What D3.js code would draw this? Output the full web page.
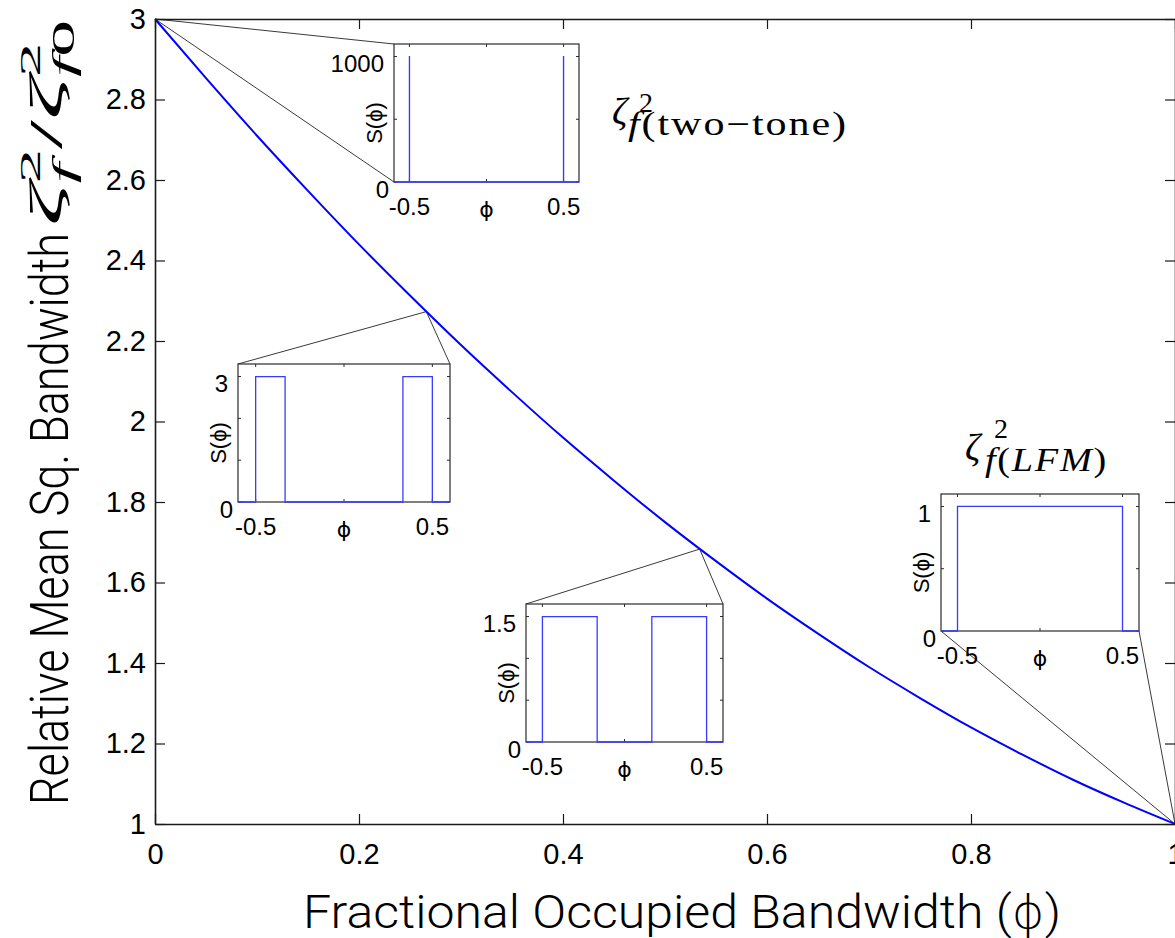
<!DOCTYPE html>
<html>
<head>
<meta charset="utf-8">
<script src="https://cdn.jsdelivr.net/npm/d3@7"></script>
<style>
  body { margin: 0; background: #fff; }
  svg { display: block; }
</style>
</head>
<body>
<script>
// main curve
var phi = [0, 0.05, 0.1, 0.15, 0.2, 0.25, 0.3, 0.35, 0.4, 0.45, 0.5,
           0.55, 0.6, 0.65, 0.7, 0.75, 0.8, 0.85, 0.9, 0.95, 1];
var relBw = [3, 2.853, 2.71, 2.573, 2.44, 2.313, 2.19, 2.073, 1.96, 1.853, 1.75,
             1.653, 1.56, 1.473, 1.39, 1.313, 1.24, 1.173, 1.11, 1.053, 1];
var xTicks = [0, 0.2, 0.4, 0.6, 0.8, 1];
var xTickLabels = ["0", "0.2", "0.4", "0.6", "0.8", "1"];
var yTicks = [1, 1.2, 1.4, 1.6, 1.8, 2, 2.2, 2.4, 2.6, 2.8, 3];
var yTickLabels = ["1", "1.2", "1.4", "1.6", "1.8", "2", "2.2", "2.4", "2.6", "2.8", "3"];

// small spectra S(phi): occupied bandwidth and peak height of each inset
var insetOccupied = [0.001, 0.333, 0.667, 1];
var insetPeak = [1000, 3, 1.5, 1];
var insetYTicks = [[0, 500, 1000], [0, 1, 2, 3], [0, 0.5, 1, 1.5], [0, 0.5, 1]];
var insetYTickLabels = [["0", "", "1000"], ["0", "", "", "3"], ["0", "", "", "1.5"], ["0", "", "1"]];
var insetXTicks = [-0.5, 0, 0.5];
var insetXTickLabels = ["-0.5", "", "0.5"];
// where each inset points to on the main curve
var anchorPhi = [0, 0.266, 0.534, 1];
var anchorVal = [3, 2.273, 1.683, 1];

var W = 1175, H = 938;
var mLeft = 155, mRight = 1175, mTop = 19, mBottom = 824;

// layout of the insets (pixels)
var insetBox = [
    { x: 394, y: 44, w: 185, h: 138, corners: ["tl", "bl"] },
    { x: 238, y: 364, w: 212, h: 138, corners: ["tl", "tr"] },
    { x: 526, y: 604, w: 197, h: 138, corners: ["tl", "tr"] },
    { x: 941, y: 494, w: 198, h: 137, corners: ["bl", "br"] }
];

var mathFont = "'Liberation Serif', 'Times New Roman', serif";
var tickFont = "'Liberation Sans', Arial, Helvetica, sans-serif";
var titleFont = "Roboto, 'Liberation Sans', sans-serif";

var svg = d3.select("body").append("svg")
    .attr("width", W)
    .attr("height", H);

var x = d3.scaleLinear().domain([0, 1]).range([mLeft, mRight]);
var y = d3.scaleLinear().domain([1, 3]).range([mBottom, mTop]);

// connectors from the curve to the insets
insetBox.forEach(function (b, i) {
    var ax = x(anchorPhi[i]), ay = y(anchorVal[i]);
    b.corners.forEach(function (c) {
        var cx = c[1] == "l" ? b.x : b.x + b.w;
        var cy = c[0] == "t" ? b.y : b.y + b.h;
        svg.append("line")
            .attr("x1", ax).attr("y1", ay)
            .attr("x2", cx).attr("y2", cy)
            .attr("stroke", "#3a3a3a")
            .attr("stroke-width", 1);
    });
});

var line = d3.line()
    .x(function (d, i) { return x(phi[i]); })
    .y(function (d) { return y(d); })
    .curve(d3.curveMonotoneX);

svg.append("path")
    .datum(relBw)
    .attr("fill", "none")
    .attr("stroke", "#0000ff")
    .attr("stroke-width", 2)
    .attr("d", line);

function styleAxis(g) {
    g.selectAll(".domain").attr("stroke", "#1a1a1a").attr("stroke-width", 1.6);
    g.selectAll(".tick line").attr("stroke", "#1a1a1a").attr("stroke-width", 1.2);
    g.selectAll(".tick text")
        .attr("fill", "#000")
        .style("font-family", tickFont)
        .style("font-size", "29px");
}

svg.append("g")
    .attr("transform", "translate(0," + mBottom + ")")
    .call(d3.axisBottom(x).tickValues(xTicks)
        .tickFormat(function (d, i) { return xTickLabels[i]; })
        .tickSizeInner(-10).tickSizeOuter(0).tickPadding(19))
    .call(styleAxis);

svg.append("g")
    .attr("transform", "translate(0," + mTop + ")")
    .call(d3.axisTop(x).tickValues(xTicks).tickFormat("")
        .tickSizeInner(-10).tickSizeOuter(0))
    .call(styleAxis);

svg.append("g")
    .attr("transform", "translate(" + mLeft + ",0)")
    .call(d3.axisLeft(y).tickValues(yTicks)
        .tickFormat(function (d, i) { return yTickLabels[i]; })
        .tickSizeInner(-10).tickSizeOuter(0).tickPadding(9))
    .call(styleAxis);

svg.append("g")
    .attr("transform", "translate(" + mRight + ",0)")
    .call(d3.axisRight(y).tickValues(yTicks).tickFormat("")
        .tickSizeInner(-10).tickSizeOuter(0))
    .call(styleAxis);

// axis titles
var xt = svg.append("text")
    .attr("x", 303)
    .attr("y", 928)
    .attr("textLength", 758)
    .attr("lengthAdjust", "spacingAndGlyphs")
    .style("font-family", titleFont)
    .style("font-weight", 300)
    .style("font-size", "46px");
xt.append("tspan").text("Fractional Occupied Bandwidth (");
xt.append("tspan").style("font-family", "'DejaVu Sans', sans-serif").style("font-weight", 200).text("\u03d5");
xt.append("tspan").text(")");

svg.append("text")
    .attr("transform", "translate(68,805) rotate(-90)")
    .attr("textLength", 572)
    .attr("lengthAdjust", "spacingAndGlyphs")
    .style("font-family", titleFont)
    .style("font-weight", 300)
    .style("font-size", "53px")
    .text("Relative Mean Sq. Bandwidth");

var ym = svg.append("text")
    .attr("transform", "translate(62,226) rotate(-90)")
    .attr("textLength", 206)
    .attr("lengthAdjust", "spacingAndGlyphs")
    .style("font-family", mathFont)
    .style("font-size", "46px");
ym.append("tspan").style("font-style", "italic").text("\u03b6");
ym.append("tspan").attr("dy", -22).style("font-size", "30px").text("2");
ym.append("tspan").attr("dx", -15).attr("dy", 34).style("font-size", "32px").style("font-style", "italic").text("f");
ym.append("tspan").attr("dx", 6).attr("dy", -12).text("/");
ym.append("tspan").style("font-style", "italic").text("\u03b6");
ym.append("tspan").attr("dy", -22).style("font-size", "30px").text("2");
ym.append("tspan").attr("dx", -15).attr("dy", 34).style("font-size", "32px").style("font-style", "italic").text("f");
ym.append("tspan").style("font-size", "32px").text("0");

// math annotations
function annotate(zx, zy, supX, supY, subX, subY, subLen, parts) {
    var g = svg.append("g").style("font-family", mathFont);
    g.append("text").attr("x", zx).attr("y", zy)
        .style("font-size", "38px").style("font-style", "italic").text("\u03b6");
    g.append("text").attr("x", supX).attr("y", supY)
        .style("font-size", "28px").text("2");
    var t = g.append("text").attr("x", subX).attr("y", subY)
        .attr("textLength", subLen).attr("lengthAdjust", "spacingAndGlyphs")
        .style("letter-spacing", "1.5px")
        .style("font-size", "33px");
    parts.forEach(function (p) {
        t.append("tspan").style("font-style", p[1] ? "italic" : "normal").text(p[0]);
    });
}
annotate(612, 124, 639, 112, 628, 135, 220,
    [["f", true], ["(two\u2212tone)", false]]);
annotate(965, 460, 994, 438, 985, 471, 123,
    [["f", true], ["(", false], ["LFM", true], [")", false]]);

// insets
function drawInset(i) {
    var b = insetBox[i];
    var g = svg.append("g");
    var ix = d3.scaleLinear().domain([-0.6, 0.6]).range([b.x, b.x + b.w]);
    var iy = d3.scaleLinear().domain([0, insetPeak[i] * 1.1]).range([b.y + b.h, b.y]);
    var x0 = b.y + b.h;

    g.append("rect")
        .attr("x", b.x).attr("y", b.y)
        .attr("width", b.w).attr("height", b.h)
        .attr("fill", "#fff")
        .attr("stroke", "#2a2a2a")
        .attr("stroke-width", 1.2);

    // inward ticks on all four sides
    insetXTicks.forEach(function (t) {
        g.append("line").attr("x1", ix(t)).attr("x2", ix(t))
            .attr("y1", b.y + b.h).attr("y2", b.y + b.h - 3).attr("stroke", "#2a2a2a");
        g.append("line").attr("x1", ix(t)).attr("x2", ix(t))
            .attr("y1", b.y).attr("y2", b.y + 3).attr("stroke", "#2a2a2a");
    });
    insetYTicks[i].forEach(function (t) {
        g.append("line").attr("x1", b.x).attr("x2", b.x + 3)
            .attr("y1", iy(t)).attr("y2", iy(t)).attr("stroke", "#2a2a2a");
        g.append("line").attr("x1", b.x + b.w).attr("x2", b.x + b.w - 3)
            .attr("y1", iy(t)).attr("y2", iy(t)).attr("stroke", "#2a2a2a");
    });

    // spectrum: two bands at the band edges, each half the occupied width
    var half = insetOccupied[i] / 2;
    var h = insetPeak[i];
    var pts;
    if (half >= 0.5) {
        pts = [[-0.6, 0], [-0.5, 0], [-0.5, h], [0.5, h], [0.5, 0], [0.6, 0]];
    } else {
        pts = [[-0.6, 0], [-0.5, 0], [-0.5, h], [-0.5 + half, h], [-0.5 + half, 0],
               [0.5 - half, 0], [0.5 - half, h], [0.5, h], [0.5, 0], [0.6, 0]];
    }
    g.append("path")
        .attr("d", d3.line().x(function (d) { return ix(d[0]); })
            .y(function (d) { return iy(d[1]); })(pts))
        .attr("fill", "none")
        .attr("stroke", "#3a3aff")
        .attr("stroke-width", 1.3);

    insetXTicks.forEach(function (t, k) {
        g.append("text")
            .attr("x", ix(t)).attr("y", x0 + 16).attr("dy", "0.71em")
            .attr("text-anchor", "middle")
            .style("font-family", tickFont).style("font-size", "24px")
            .text(insetXTickLabels[k]);
    });
    insetYTicks[i].forEach(function (t, k) {
        var lab = insetYTickLabels[i][k];
        if (!lab) return;
        var isZero = t == 0;
        g.append("text")
            .attr("x", b.x - (isZero ? 5 : 10))
            .attr("y", iy(t) + (isZero ? 8 : 7)).attr("dy", "0.35em")
            .attr("text-anchor", "end")
            .style("font-family", tickFont).style("font-size", "24px")
            .text(lab);
    });
    g.append("text")
        .attr("x", ix(0)).attr("y", x0 + 27).attr("dy", "0.35em")
        .attr("text-anchor", "middle")
        .style("font-family", "'DejaVu Sans', sans-serif").style("font-size", "22px")
        .text("\u03d5");
    g.append("text")
        .attr("transform", "translate(" + (b.x - 12) + "," + (b.y + b.h / 2 + 10) + ") rotate(-90)")
        .attr("text-anchor", "middle")
        .style("font-family", tickFont).style("font-size", "22px")
        .text("S(\u03d5)");
}
insetBox.forEach(function (b, i) { drawInset(i); });
</script>
</body>
</html>
